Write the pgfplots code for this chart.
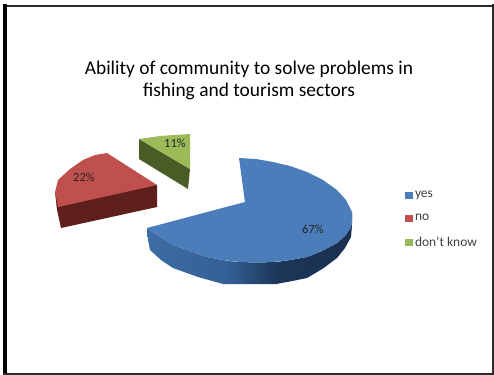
\documentclass[border=0pt]{standalone}
\usepackage{pgfplots}
\pgfplotsset{compat=1.18}
\usepackage{fontspec}
\setmainfont{Carlito}
\definecolor{bluetop}{HTML}{4A7DBA}
\definecolor{redtop}{HTML}{C0504D}
\definecolor{greentop}{HTML}{9BBB59}
\definecolor{redside}{HTML}{5E1F1D}
\definecolor{greenside}{HTML}{4A5C25}
\definecolor{blueL}{HTML}{3D6DA5}
\definecolor{blueM}{HTML}{335F95}
\definecolor{blueR}{HTML}{1C3759}
\definecolor{blueD}{HTML}{1A3050}
\definecolor{frame}{HTML}{2A2A2A}
\begin{document}
\begin{tikzpicture}
\path[use as bounding box] (0,0) rectangle (494bp,375bp);
\begin{axis}[
  width=494bp,height=375bp,scale only axis,
  xmin=0,xmax=494,ymin=0,ymax=375,y dir=reverse,
  hide axis,clip=false,
  legend cell align=left,
  legend style={at={(axis cs:405,189)},anchor=north west,draw=none,fill=none,
    font=\fontsize{13.5}{14}\selectfont,text=black!75,row sep=11bp,inner sep=0pt,outer sep=0pt},
  legend image code/.code={\fill[#1] (0bp,-3.5bp) rectangle (8bp,3.5bp);},
]
% blue slice: side (three shaded parts), then top face
\addplot[forget plot,draw=none,left color=blueL,right color=blueM,shading angle=90] coordinates {
 (147,228) (148,240) (150,250) (161,260) (173,268) (198,277) (223,284) (229,284)
 (229,261) (223,260) (207,257) (190,251) (173,245) (160,237)} -- cycle;
\addplot[forget plot,draw=none,left color=blueM,right color=blueR,shading angle=90] coordinates {
 (228,261) (228,284) (277,284) (277,262) (256,262.5) (240,262)} -- cycle;
\addplot[forget plot,draw=none,left color=blueR,right color=blueD,shading angle=90] coordinates {
 (276,262) (276,284) (290,281.5) (307,278) (323,268.5) (337,258) (345,248) (351,237) (352,225) (352,212)
 (352,220) (351,227) (345,236) (337,243) (322,251) (307,257) (290,260)} -- cycle;
\addplot[fill=bluetop,draw=none] coordinates {
 (239,158) (256,159) (273,162) (290,166) (307,172) (323,180) (337,190) (346,200) (352,212) (352,220)
 (351,227) (345,236) (337,243) (322,251) (307,257) (290,260) (273,262) (256,262.5) (240,262) (223,260)
 (207,257) (190,251) (173,245) (160,237) (147,228) (245,202)} -- cycle;
\addlegendentry{yes}
% red slice
\addplot[forget plot,fill=redside,draw=none] coordinates {
 (55,192) (57,210) (61,228) (157,207) (157,185)} -- cycle;
\addplot[fill=redtop,draw=none] coordinates {
 (157,185) (107,153) (95,155) (83,160) (70,169) (58,180) (55,192) (58,207)} -- cycle;
\addlegendentry{no}
% green slice
\addplot[forget plot,fill=greenside,draw=none] coordinates {
 (139,139) (139,159) (188,189) (190,169)} -- cycle;
\addplot[fill=greentop,draw=none] coordinates {
 (139,139) (160,136) (190,134) (190,169)} -- cycle;
\addlegendentry{don't know}
% frame
\addplot[forget plot,frame,line width=2.5bp] coordinates {(3,5.8) (494,5.8)};
\addplot[forget plot,black,line width=4bp] coordinates {(5,4.5) (5,375)};
\addplot[forget plot,frame,line width=2.5bp] coordinates {(3,374) (494,374)};
\addplot[forget plot,frame,line width=2.5bp] coordinates {(493,4.5) (493,375)};
\node[align=center,font=\fontsize{19.5}{22}\selectfont,text=black] at (axis cs:249,80.5)
 {Ability of community to solve problems in\\fishing and tourism sectors};
\node[font=\fontsize{12.5}{14}\selectfont,text=black!85] at (axis cs:84,177) {22\%};
\node[font=\fontsize{12.5}{14}\selectfont,text=black!85] at (axis cs:175,143) {11\%};
\node[font=\fontsize{12.5}{14}\selectfont,text=black!85] at (axis cs:313,229) {67\%};
\end{axis}
\end{tikzpicture}
\end{document}
